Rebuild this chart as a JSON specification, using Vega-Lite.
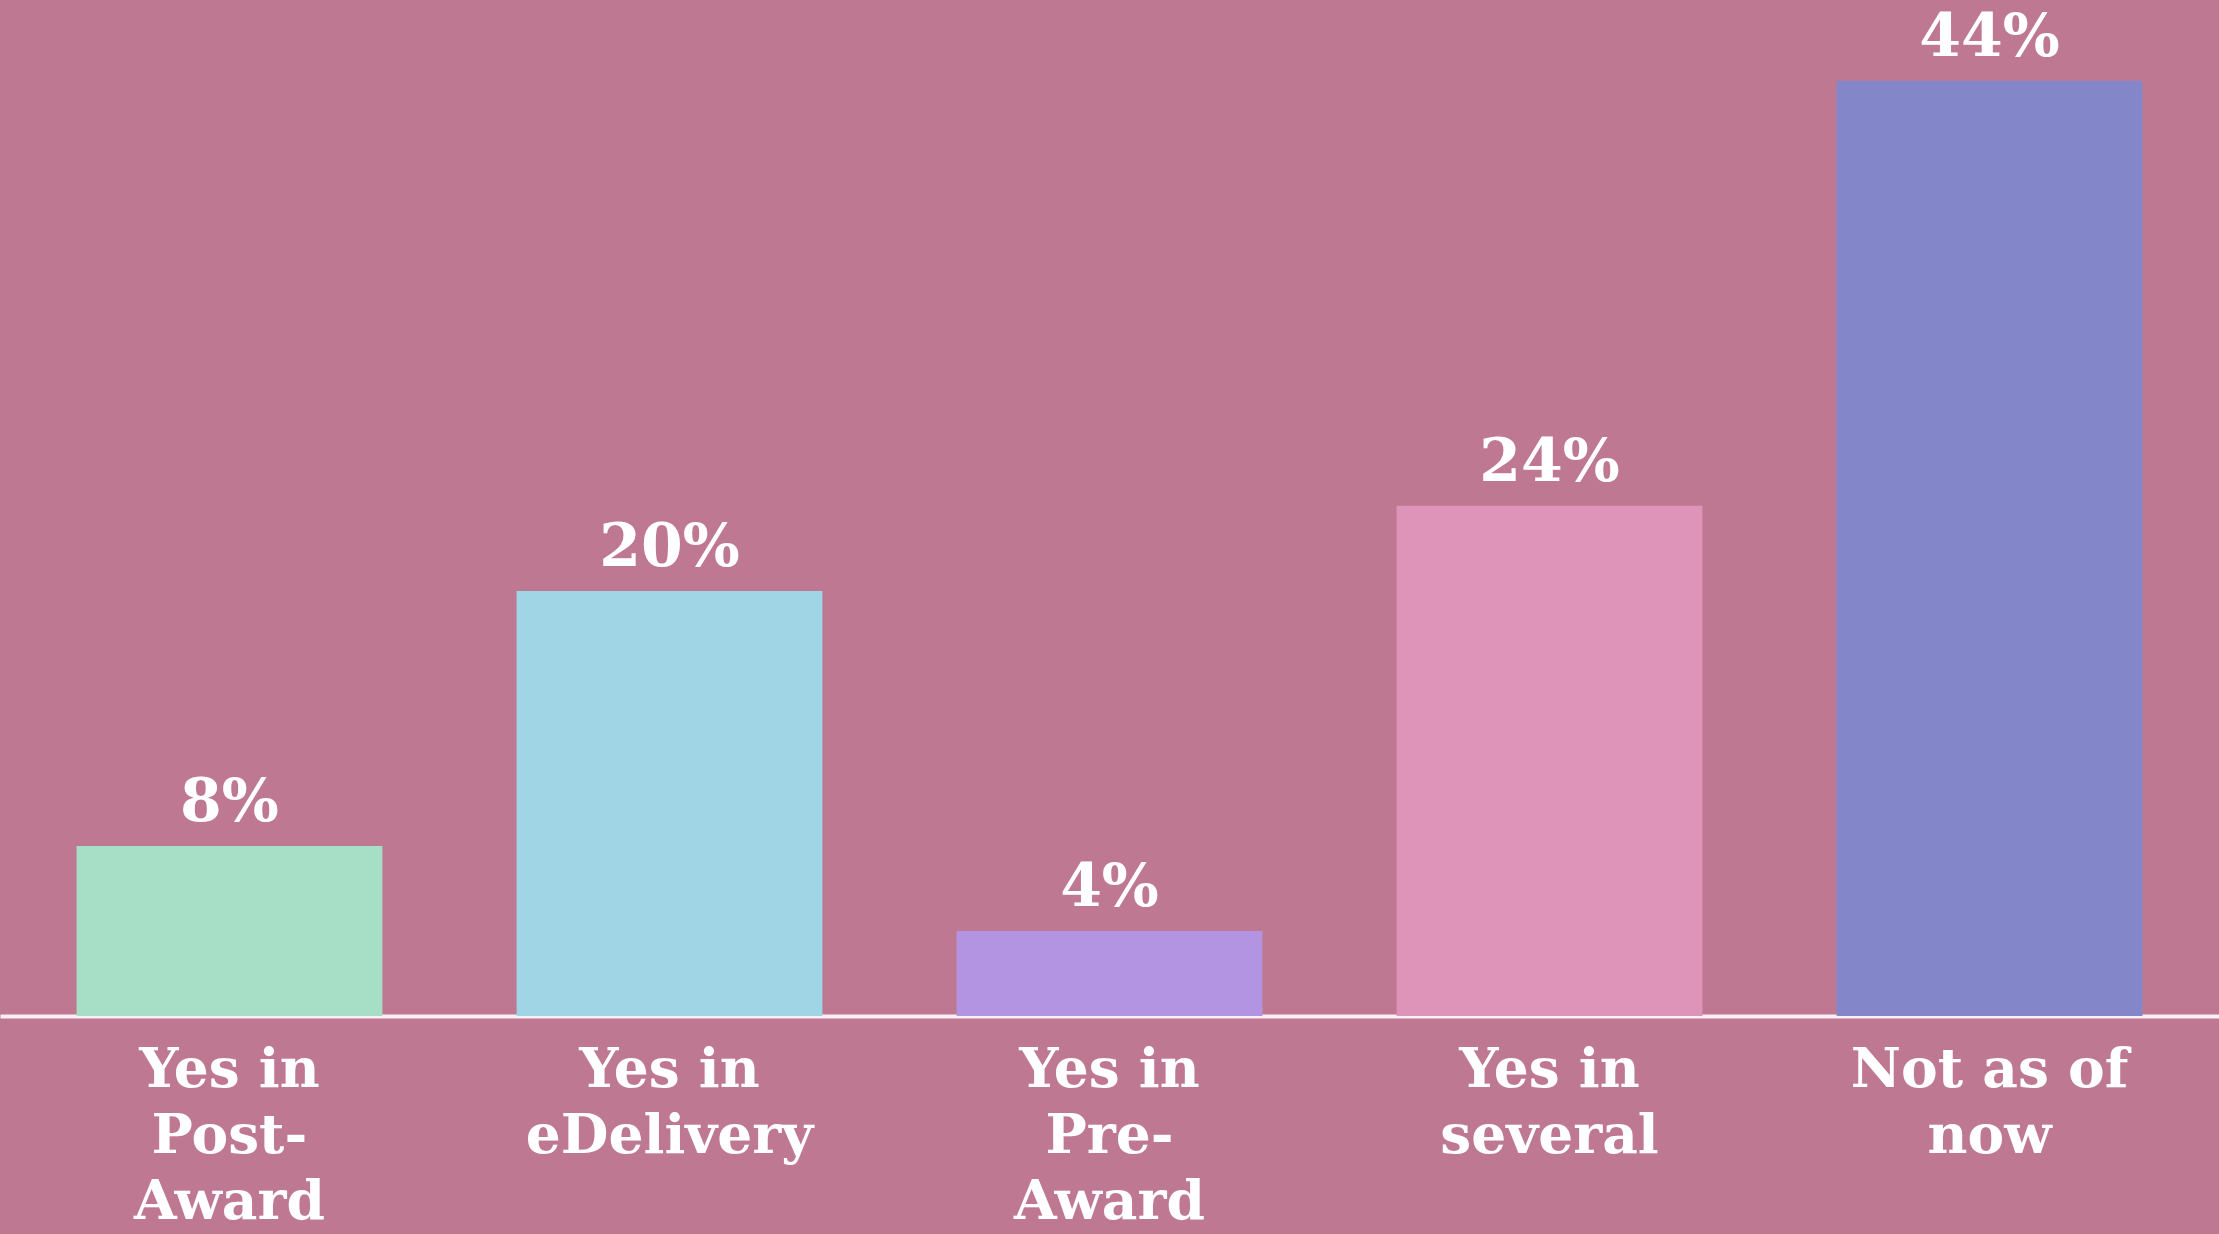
{
  "$schema": "https://vega.github.io/schema/vega-lite/v6.json",
  "width": 2219,
  "height": 1016,
  "padding": {"left": 0, "top": 0, "right": 0, "bottom": 218},
  "autosize": "none",
  "background": "#bf7891",
  "view": {"stroke": null},
  "data": {"values": [
    {"cat": "Yes in|Post-|Award", "value": 8, "label": "8%", "color": "#a6dec6"},
    {"cat": "Yes in|eDelivery", "value": 20, "label": "20%", "color": "#a0d5e6"},
    {"cat": "Yes in|Pre-|Award", "value": 4, "label": "4%", "color": "#b394e3"},
    {"cat": "Yes in|several", "value": 24, "label": "24%", "color": "#de94b9"},
    {"cat": "Not as of|now", "value": 44, "label": "44%", "color": "#8387c9"}
  ]},
  "encoding": {
    "x": {
      "field": "cat", "type": "nominal", "sort": null,
      "scale": {"paddingInner": 0.305, "paddingOuter": 0.174},
      "axis": {
        "title": null, "ticks": false, "grid": false,
        "domainColor": "#fbeef4", "domainWidth": 4,
        "labelAngle": 0, "labelColor": "#ffffff",
        "labelFont": "DejaVu Serif", "labelFontWeight": "bold", "labelFontSize": 55,
        "labelLineHeight": 66, "labelBaseline": "alphabetic", "labelPadding": 70,
        "labelExpr": "split(datum.label, '|')", "labelLimit": 0
      }
    },
    "y": {
      "field": "value", "type": "quantitative",
      "scale": {"domain": [0, 47.8], "nice": false},
      "axis": null
    }
  },
  "layer": [
    {"mark": {"type": "bar"}, "encoding": {"color": {"field": "color", "type": "nominal", "scale": null}}},
    {"mark": {"type": "text", "baseline": "alphabetic", "dy": -25, "color": "#ffffff", "font": "DejaVu Serif", "fontWeight": "bold", "fontSize": 60},
     "encoding": {"text": {"field": "label"}}}
  ]
}
